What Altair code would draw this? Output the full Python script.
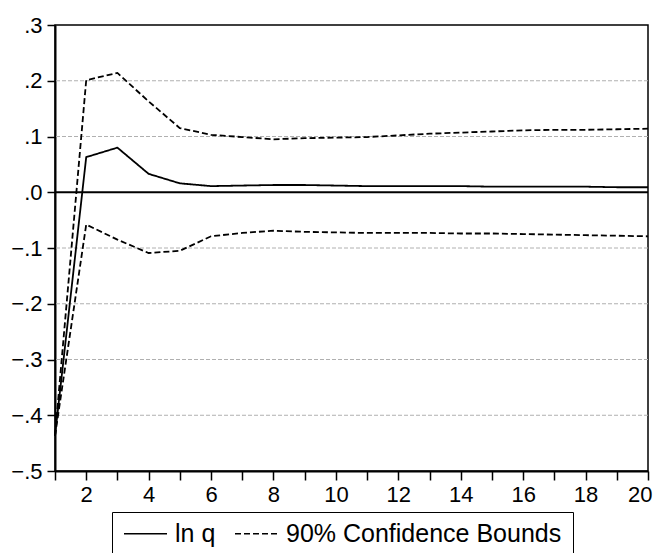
import altair as alt
import pandas as pd

periods = list(range(1, 21))
lnq = [-0.437, 0.063, 0.080, 0.033, 0.016, 0.011, 0.012, 0.013, 0.013, 0.012,
       0.011, 0.011, 0.011, 0.011, 0.010, 0.010, 0.010, 0.010, 0.009, 0.009]
upper = [-0.437, 0.201, 0.214, 0.163, 0.115, 0.103, 0.099, 0.095, 0.097, 0.098,
         0.099, 0.102, 0.105, 0.107, 0.109, 0.111, 0.112, 0.112, 0.113, 0.114]
lower = [-0.437, -0.058, -0.085, -0.109, -0.105, -0.079, -0.073, -0.069, -0.071, -0.072,
         -0.073, -0.073, -0.073, -0.074, -0.074, -0.075, -0.076, -0.077, -0.078, -0.079]
series_names = ["ln q", "90% Confidence Bounds"]
y_ticks = [-0.5, -0.4, -0.3, -0.2, -0.1, 0, 0.1, 0.2, 0.3]
grid_vals = [-0.4, -0.3, -0.2, -0.1, 0.1, 0.2]

rows = []
for p, a, u, l in zip(periods, lnq, upper, lower):
    rows.append({"period": p, "value": a, "series": series_names[0], "band": "mid"})
    rows.append({"period": p, "value": u, "series": series_names[1], "band": "upper"})
    rows.append({"period": p, "value": l, "series": series_names[1], "band": "lower"})
df = pd.DataFrame(rows)

FONT = "Liberation Sans"

x_scale = alt.Scale(domain=[1, 20], nice=False, zero=False)
y_scale = alt.Scale(domain=[-0.5, 0.3], nice=False, zero=False)

lines = alt.Chart(df).mark_line(strokeWidth=1.8, color="black").encode(
    x=alt.X("period:Q", scale=x_scale,
            axis=alt.Axis(values=periods, title=None, grid=False,
                          labelExpr="datum.value % 2 == 0 ? datum.label : ''",
                          tickSize=9, labelPadding=4, labelFlush=True, labelFlushOffset=4)),
    y=alt.Y("value:Q", scale=y_scale,
            axis=alt.Axis(values=y_ticks, title=None, grid=False,
                          tickSize=8, labelPadding=5, labelFlush=False,
                          labelExpr="replace(format(datum.value, '.1f'), '0.', '.')")),
    strokeDash=alt.StrokeDash("series:N",
                              scale=alt.Scale(domain=series_names, range=[[1, 0], [6, 3]]),
                              legend=alt.Legend(title=None, orient="none", legendX=57, legendY=487,
                                                direction="horizontal", strokeColor="black",
                                                padding=11, labelFont=FONT, labelFontSize=25,
                                                labelColor="black", labelLimit=500,
                                                symbolType="stroke", symbolSize=1850,
                                                symbolStrokeColor="black", symbolStrokeWidth=1.5,
                                                clipHeight=21,
                                                labelOffset=7, columnPadding=18)),
    detail="band:N",
    order="period:Q",
)

grid = alt.Chart(pd.DataFrame({"y": grid_vals})).mark_rule(
    color="#b0b0b0", strokeWidth=1, strokeDash=[4, 2]
).encode(y=alt.Y("y:Q", scale=y_scale))

zero = alt.Chart(pd.DataFrame({"y": [0]})).mark_rule(color="black", strokeWidth=2).encode(
    y=alt.Y("y:Q", scale=y_scale)
)

chart = alt.layer(grid, zero, lines).properties(
    width=593, height=446,
    autosize=alt.AutoSizeParams(type="none"),
    padding={"left": 47, "top": 17, "right": 5, "bottom": 90},
).configure_view(
    stroke="black", strokeWidth=1.5
).configure_axis(
    domainColor="black", domainWidth=2, tickColor="black", tickWidth=1.5,
    labelFont=FONT, labelFontSize=22, labelColor="black"
)

chart.save("out.html", embed_options={"renderer": "svg", "actions": False})
